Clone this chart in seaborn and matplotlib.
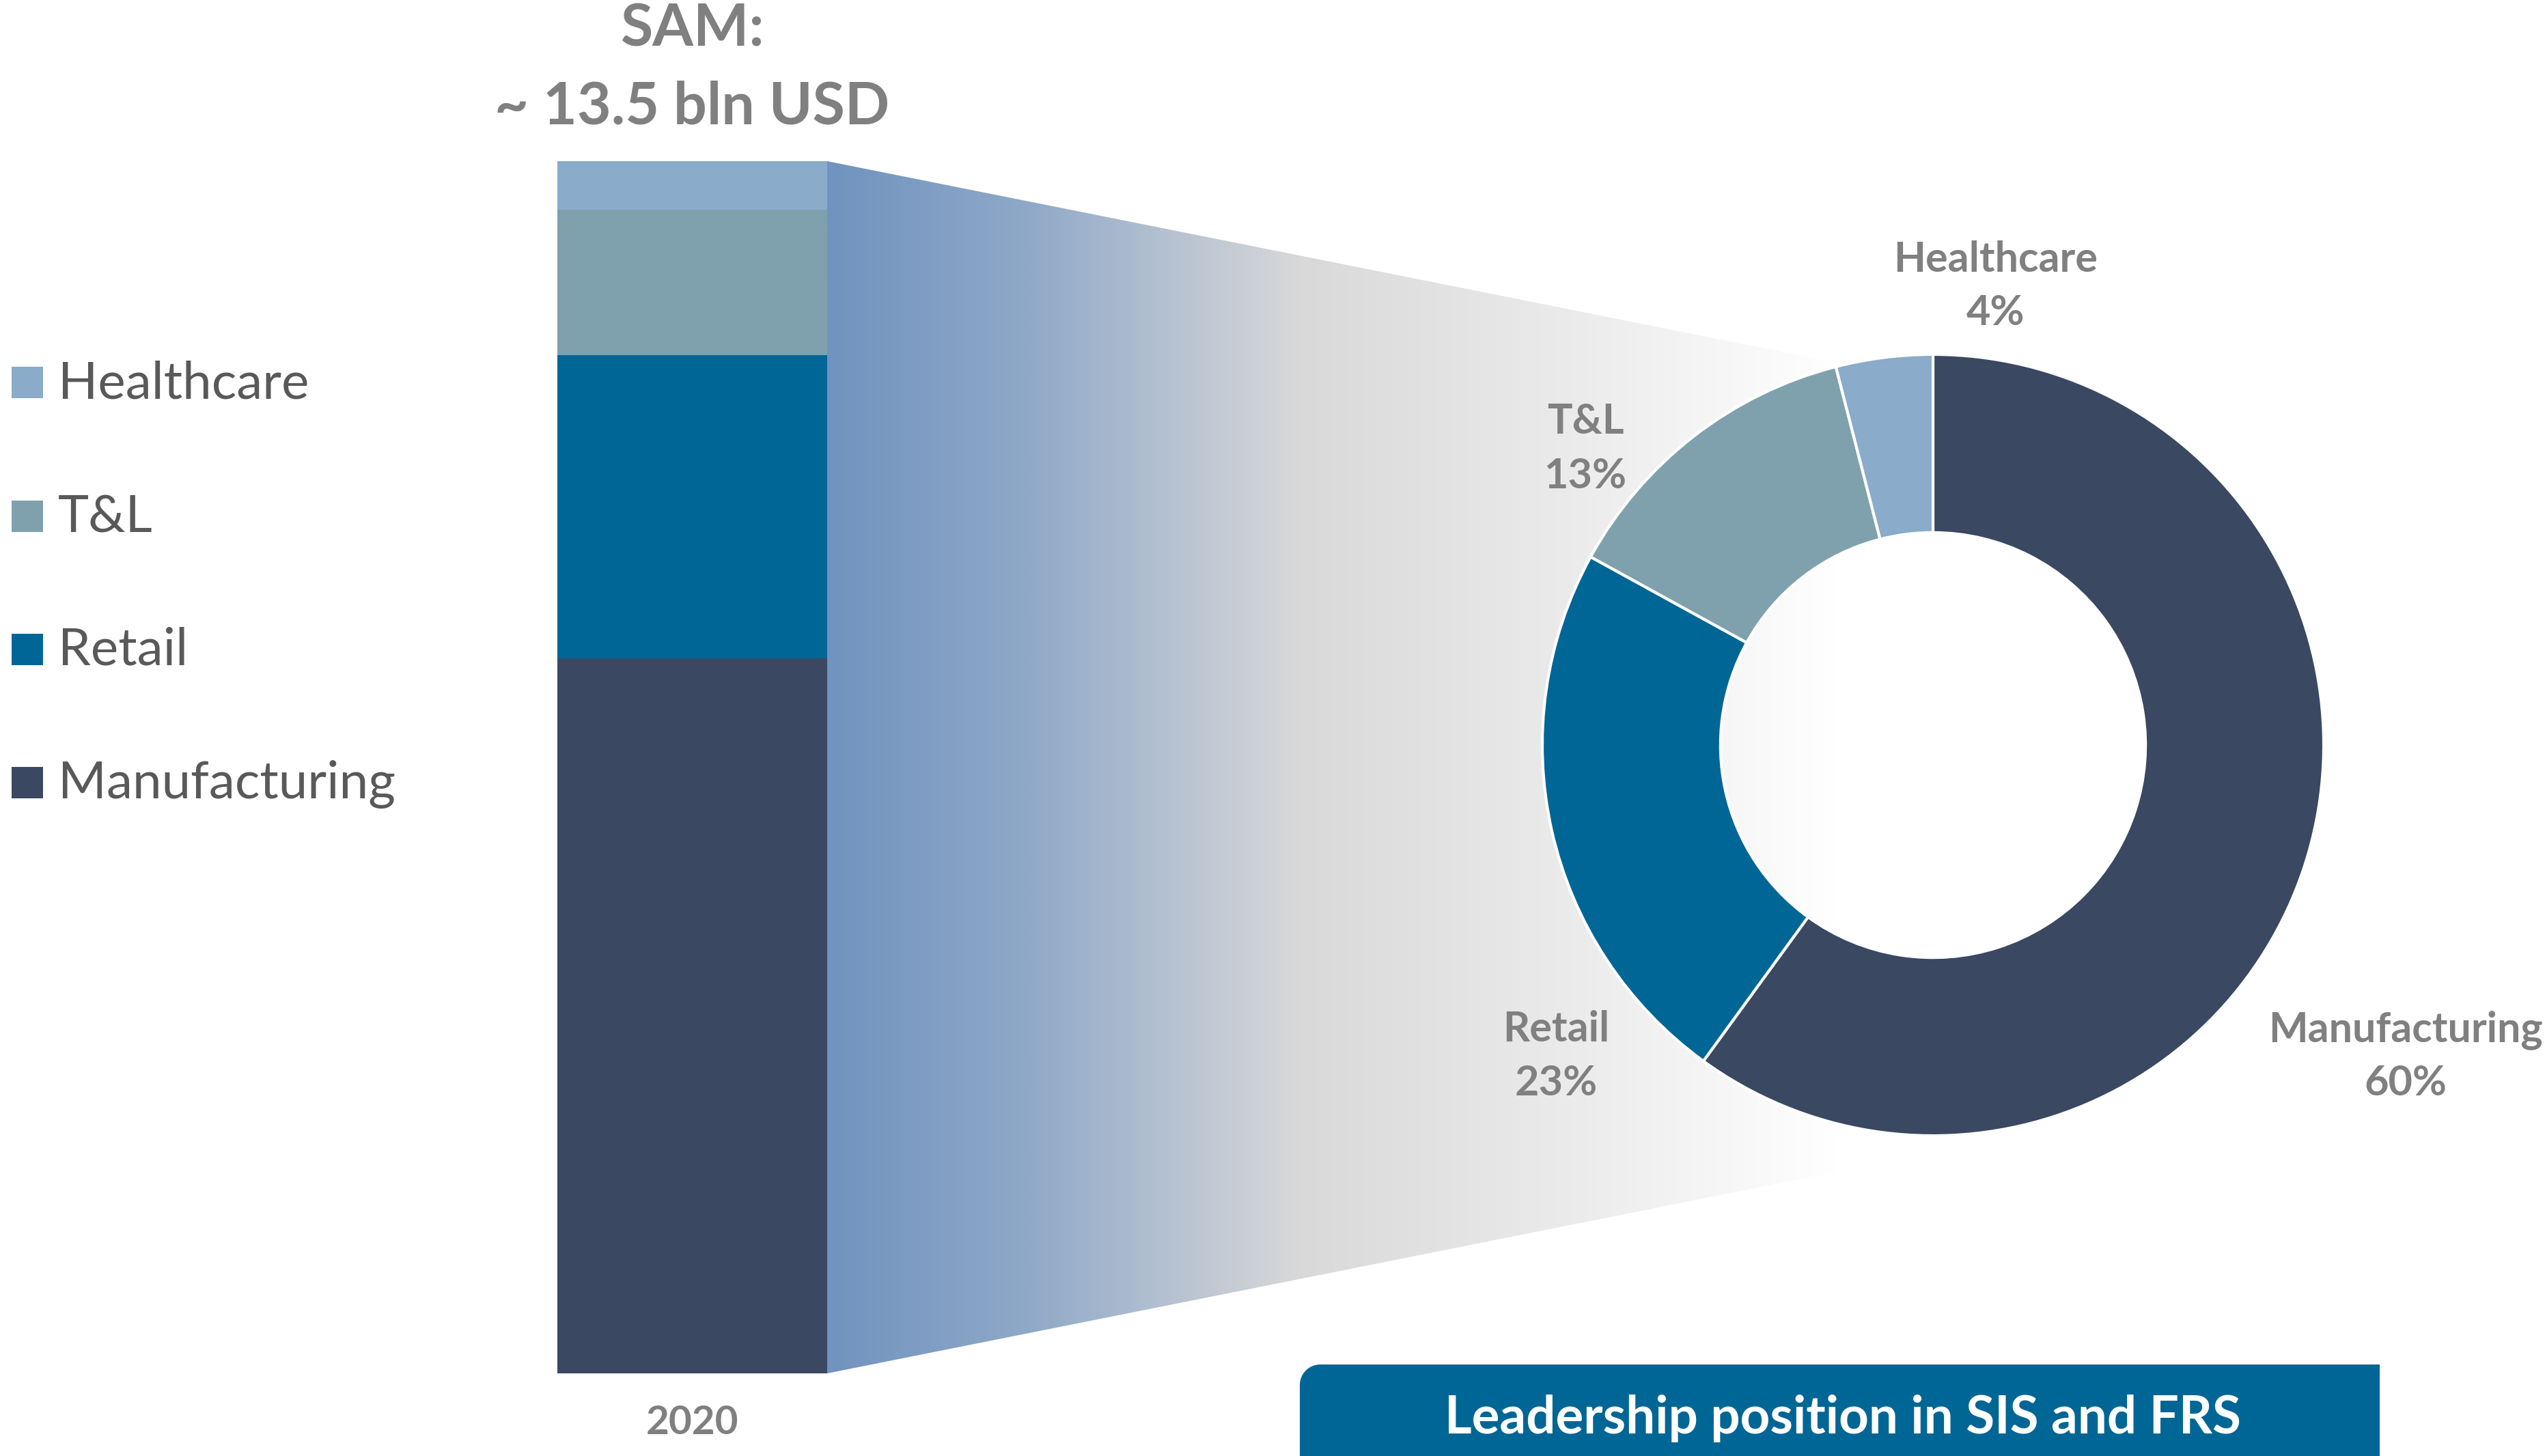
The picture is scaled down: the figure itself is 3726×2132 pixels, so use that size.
import numpy as np
import matplotlib
matplotlib.use("Agg")
import matplotlib.pyplot as plt
import seaborn as sns
from matplotlib.patches import Polygon, Rectangle
from matplotlib.colors import LinearSegmentedColormap

# ---------------- data ----------------
categories = ["Manufacturing", "Retail", "T&L", "Healthcare"]
bar_shares = [59, 25, 12, 4]          # stacked 2020 bar (bottom -> top)
pie_shares = [60, 23, 13, 4]          # donut, clockwise from 12 o'clock
pie_labels = ["60%", "23%", "13%", "4%"]
colors = ["#3a4862", "#006695", "#7ea1ad", "#8aabca"]
bar_year = "2020"
title_lines = ["SAM:", "~ 13.5 bln USD"]
box_text = "Leadership position in SIS and FRS"
legend_order = ["Healthcare", "T&L", "Retail", "Manufacturing"]

# ---------------- style ----------------
sns.set_theme(style="white")
plt.rcParams["font.family"] = ["Lato", "DejaVu Sans"]
GREY = "#808080"
LEG = "#595959"

W, H = 3726, 2132
fig = plt.figure(figsize=(W / 100, H / 100), dpi=100)
fig.patch.set_facecolor("white")

# background axes in pixel coordinates
bg = fig.add_axes([0, 0, 1, 1])
bg.set_xlim(0, W)
bg.set_ylim(H, 0)
bg.axis("off")

# ---------------- funnel gradient ----------------
bx0, bx1, by0, by1 = 816, 1211, 236, 2011
fx = 2693
poly = Polygon([(bx1, by0), (fx, 532), (fx, 1715), (bx1, by1)], closed=True,
               facecolor="none", edgecolor="none")
bg.add_patch(poly)
cmap = LinearSegmentedColormap.from_list(
    "fun", [(0.0, "#7093bf"), (0.2, "#90a9c8"), (0.47, "#d9d9d9"),
            (0.75, "#ececec"), (1.0, "#ffffff")])
grad = np.linspace(0, 1, 512)[None, :].repeat(4, axis=0)
im = bg.imshow(grad, cmap=cmap, aspect="auto",
               extent=(bx1, fx, by1, by0), zorder=1, interpolation="bilinear")
im.set_clip_path(poly)

# ---------------- stacked bar ----------------
axb = fig.add_axes([bx0 / W, (H - by1) / H, (bx1 - bx0) / W, (by1 - by0) / H])
cum = np.cumsum(bar_shares)
for i in range(len(categories) - 1, -1, -1):
    sns.barplot(x=[bar_year], y=[cum[i]], color=colors[i], width=1,
                saturation=1, errorbar=None, ax=axb, linewidth=0)
axb.set_xlim(-0.5, 0.5)
axb.set_ylim(0, cum[-1])
axb.axis("off")

bg.text((bx0 + bx1) / 2, 2100, bar_year, ha="center", va="baseline",
        fontsize=42, fontweight="bold", color=GREY)
bg.text((bx0 + bx1) / 2, 67, title_lines[0], ha="center", va="baseline",
        fontsize=62, fontweight="bold", color=GREY)
bg.text((bx0 + bx1) / 2, 182, title_lines[1], ha="center", va="baseline",
        fontsize=62, fontweight="bold", color=GREY)

# ---------------- legend ----------------
leg_base = [583, 779, 974, 1169]
for name, yb in zip(legend_order, leg_base):
    c = colors[categories.index(name)]
    bg.add_patch(Rectangle((17, yb - 46), 46, 46, facecolor=c, edgecolor="none"))
    bg.text(85, yb, name, ha="left", va="baseline", fontsize=55, color=LEG)

# ---------------- donut ----------------
cx, cy, R = 2830, 1091, 572
axp = fig.add_axes([(cx - R) / W, (H - (cy + R)) / H, 2 * R / W, 2 * R / H])
axp.pie(pie_shares, colors=colors, startangle=90, counterclock=False,
        radius=1, wedgeprops=dict(width=0.456, edgecolor="white", linewidth=3))
axp.set_xlim(-1, 1)
axp.set_ylim(-1, 1)
axp.set_aspect("equal")
axp.axis("off")

label_pos = {"Manufacturing": (3522, 1525, 1604),
             "Retail": (2278, 1525, 1604),
             "T&L": (2321, 635, 715),
             "Healthcare": (2922, 398, 476)}
for name, pct in zip(categories, pie_labels):
    x, y1, y2 = label_pos[name]
    bg.text(x, y1, name, ha="center", va="baseline", fontsize=44,
            fontweight="bold", color=GREY, zorder=5)
    bg.text(x, y2, pct, ha="center", va="baseline", fontsize=44,
            fontweight="bold", color=GREY, zorder=5)

# ---------------- bottom box ----------------
x0, x1, y0, r = 1903, 3484, 1998, 30
t = np.linspace(np.pi, 1.5 * np.pi, 20)
arc = [(x0 + r + r * np.cos(a), y0 + r + r * np.sin(a)) for a in t]
pts = [(x0, H + 50)] + arc + [(x1, y0), (x1, H + 50)]
bg.add_patch(Polygon(pts, closed=True, facecolor="#006695", edgecolor="none", zorder=3))
bg.text(2698, 2099, box_text, ha="center", va="baseline", fontsize=55,
        fontweight="bold", color="white", zorder=4)

fig.savefig("out.png", dpi=100, facecolor="white")
